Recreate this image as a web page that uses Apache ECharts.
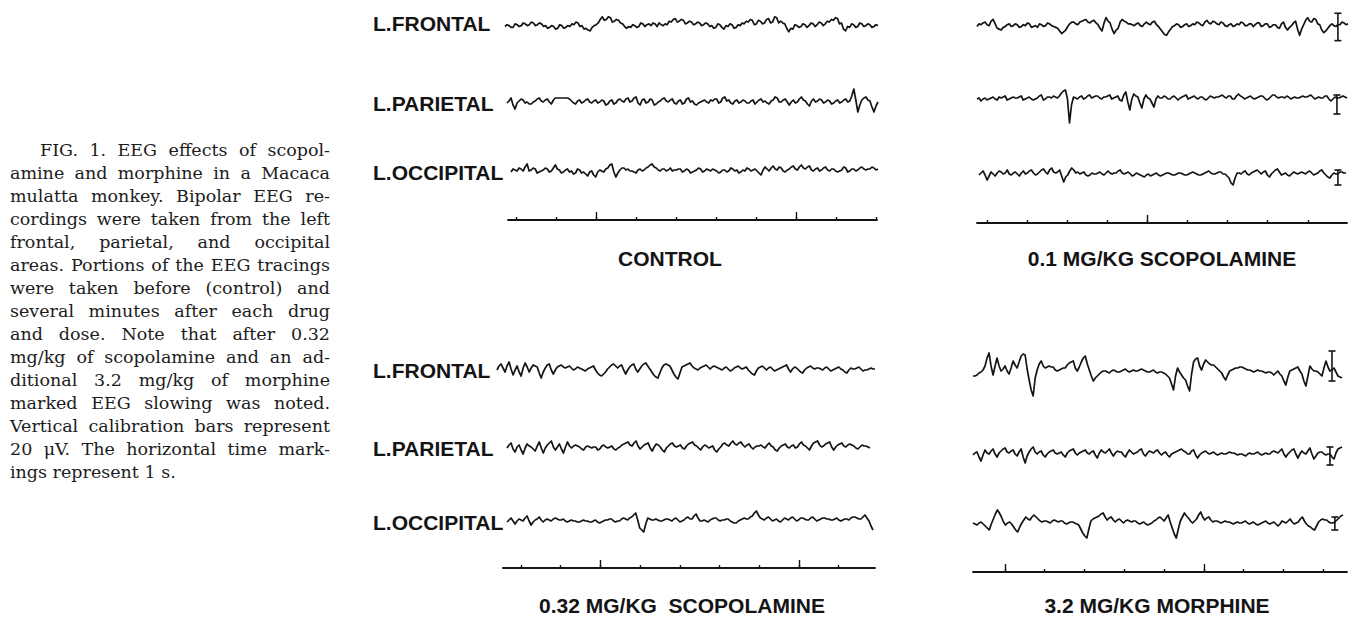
<!DOCTYPE html>
<html>
<head>
<meta charset="utf-8">
<script src="https://cdn.jsdelivr.net/npm/echarts@6/dist/echarts.min.js"></script>
<style>
html, body { margin: 0; background: #fff; }
#chart { width: 1358px; height: 618px; }
</style>
</head>
<body>
<div id="chart"></div>
<script>
// pen deflection of each channel (1 unit ~ 1 px of the original tracing), one sample every ~2 px
const tlFrontal = [0,2,1,-1,-1,3,2,0,1,4,3,1,2,5,4,1,2,4,3,0, 1,-2,-1,1,0,-3,-2,2,1,-2,-1,1,0,3,2,5,4,0,1,-3, -2,-4,-5,-1,1,2,4,8,11,7,8,11,10,5,6,8,7,4,3,0, -2,0,-1,2,1,-1,0,4,3,0,2,3,1,4,3,0,4,2,1,3, 2,6,5,8,9,5,6,8,7,3,4,6,5,2,3,5,4,1,2,4, 3,0,1,-2,-1,3,2,-1,-3,1,0,3,2,-2,-1,2,1,4,3,6, 5,8,7,2,3,7,6,3,4,8,9,4,5,11,10,4,6,4,3,-2, -6,-2,-3,2,1,-1,0,3,2,-1,1,4,3,0,2,5,4,1,3,6, 5,8,7,10,9,3,4,-3,-5,0,-1,3,2,-1,0,4,3,0,1,3,2,-1,0,2,1]
const tlParietal = [0,2,5,-2,-6,0,2,4,3,0,1,-1,-1,1,2,4,5,2,1,3, 4,1,-1,3,5,5,5,5,5,5,5,4,2,0,-1,2,3,0,1,3, 4,1,0,2,3,0,1,3,2,-2,-1,2,3,-1,0,3,4,2,1,4, 5,1,2,5,6,0,-2,3,4,0,1,4,3,-2,-1,1,2,4,5,2, 1,3,4,0,-1,2,3,-1,0,4,5,1,2,-1,-2,0,1,2,3,1, 0,3,2,4,4,0,1,5,6,2,3,0,-1,2,3,0,1,3,2,0, 0,2,3,-1,1,3,4,1,2,0,-1,2,3,6,5,1,1,3,4,1, -2,1,3,0,1,4,6,3,2,-1,-3,2,4,1,2,4,3,0,1,3, 2,-1,0,2,3,0,1,3,4,1,2,7,14,3,-9,-2,3,5,6,3,2,-4,-9,-3,1]
const tlOccipital = [0,3,2,1,4,3,1,5,8,1,2,4,3,-1,0,1,2,4,3,0, 1,4,7,3,2,-1,0,2,3,0,1,-2,-1,3,2,-1,0,-2,-4,0, 1,-3,-5,0,2,1,0,3,4,7,8,0,-5,-1,2,4,4,2,3,1, 1,0,-1,2,3,1,2,4,5,7,8,5,4,2,1,3,3,1,2,4, 1,2,2,3,3,0,1,3,2,-1,0,1,2,4,3,0,1,3,2,1, 3,2,1,-1,0,2,2,0,1,4,3,1,2,-1,0,2,1,4,3,1, 2,3,1,-1,-3,2,5,3,1,4,6,3,2,5,4,1,0,2,3,5, 6,3,2,5,7,4,3,5,6,2,1,3,4,1,2,4,5,2,1,3, 3,1,0,1,2,5,4,0,1,3,3,1,2,4,5,3,2,3,3,5,4,2,3]

const trFrontal = [0,3,2,4,5,2,1,6,8,3,-2,-3,-4,-1,0,2,3,0,1,3, 2,-1,0,2,1,4,3,-1,0,1,-1,3,2,0,1,4,3,1,0,-1, -2,-5,-8,-6,-4,0,3,5,5,3,2,5,6,7,8,5,4,6,7,4, 2,-2,-5,4,10,6,4,-3,-8,-4,-2,5,8,6,5,3,3,2,1,3, 4,1,0,3,5,3,2,5,6,2,0,-3,-6,-9,-10,-6,-3,0,1,3, 2,-1,0,2,3,0,1,3,2,5,4,2,1,5,7,4,3,6,5,3, 2,5,4,1,0,2,3,0,1,3,2,5,4,1,1,3,3,0,2,4, 4,0,1,3,3,-1,0,2,2,-1,-2,3,5,-1,-4,-1,1,4,6,-3, -10,-3,2,7,10,6,5,9,8,3,2,-4,-7,-5,-2,1,3,1,0,2,2,5,4,2,3]
const trParietal = [0,1,-2,0,1,-1,0,1,2,0,-1,2,1,2,3,-1,0,1,2,1, 1,2,3,-1,0,1,2,0,-1,0,1,3,4,-1,0,2,2,1,3,2, 1,3,6,8,9,0,-24,-6,2,1,0,2,3,0,1,3,4,1,2,3, 3,1,0,2,2,3,4,0,1,2,3,-1,-2,4,7,-3,-11,0,5,3, 2,-4,-9,0,4,1,0,-4,-8,0,3,1,1,3,2,0,0,2,3,1, -1,1,2,3,4,0,1,2,3,1,0,2,2,0,-1,1,3,2,1,2, 2,3,4,2,1,3,3,0,0,3,5,3,2,0,1,2,3,1,0,1, 2,3,3,1,-1,0,2,4,4,2,1,2,2,1,3,2,0,1,2,1, 1,2,3,2,2,3,4,2,0,1,2,1,1,3,3,0,-2,0,2,1,1,2,3,2,1]
const trOccipital = [0,2,4,0,-5,-1,3,1,-1,2,4,3,1,2,5,1,0,2,3,1, -1,2,4,1,2,4,5,2,0,1,3,5,6,3,1,5,7,3,2,3, 5,-1,-7,-2,0,4,7,5,2,3,1,2,3,0,-1,0,2,1,1,2, 3,1,0,2,4,2,1,2,2,4,5,2,1,2,3,1,-1,0,2,1, 0,-1,-2,0,1,-1,0,1,2,0,-1,0,1,2,2,1,0,0,1,2, 2,1,0,0,1,2,3,2,1,0,0,1,2,3,4,2,1,1,2,3, 3,1,1,-1,-3,-8,-10,-3,2,2,1,3,4,1,0,2,3,4,5,3, 1,3,4,0,-2,1,3,5,6,3,0,1,2,0,-1,1,3,2,1,2, 3,2,1,3,4,2,0,1,2,4,5,2,0,-2,-3,0,2,1,1,3,3,2,2]

const blFrontal = [0,4,6,2,-2,4,8,1,-5,0,4,-2,-6,2,7,3,-2,2,5,4, 3,-3,-8,-2,2,5,6,0,-4,0,3,4,5,3,2,3,4,2,0,1, 3,2,1,0,-1,1,2,3,4,0,-3,-5,-6,-4,-2,1,3,5,6,4, 2,4,5,0,-4,0,3,5,6,1,-2,1,4,6,7,4,1,-2,-5,-7, -8,-3,2,5,6,5,4,0,-4,-7,-9,-3,3,4,5,6,7,4,2,1, 0,2,3,4,5,3,1,3,4,3,2,1,0,2,3,1,-1,0,2,3, 4,2,1,2,3,0,-2,-4,-5,-1,2,3,4,2,0,2,3,1,-1,0, 1,2,3,4,5,1,-2,1,3,2,0,-2,-3,0,2,3,4,2,1,2, 2,1,0,2,3,1,-1,0,1,2,3,1,0,-2,-3,0,2,1,1,2,3,1,-1,0,0,1,2,1,1]
const blParietal = [0,3,5,-1,-4,1,3,-2,-6,0,4,2,1,-1,-3,2,6,0,-5,0, 3,5,7,1,-2,1,4,-1,-5,1,6,2,0,2,3,2,1,-1,-2,1, 2,1,0,1,1,-2,-1,2,3,1,0,1,2,-1,-2,0,1,3,4,5, 6,3,2,5,7,2,-1,1,3,4,5,0,-3,1,4,3,1,-2,-4,0, 2,4,5,2,1,2,3,0,-1,2,4,5,6,3,2,0,-2,1,3,2, 0,1,2,-2,-4,-1,1,4,5,3,2,5,7,4,3,5,6,3,1,3, 4,1,-1,1,2,2,3,1,0,3,5,2,1,-2,-3,0,2,3,4,1, 0,2,3,0,1,4,6,3,2,0,-2,2,5,6,7,3,1,2,4,5, 6,1,-2,1,3,4,5,2,1,3,4,3,2,0,-1,1,3,2,2,1,0]
const blOccipital = [0,2,4,1,-2,1,3,2,1,4,6,1,-3,0,2,3,5,2,0,2, 3,2,1,3,4,3,2,2,3,1,0,1,2,1,1,0,0,1,2,1, 1,0,0,1,2,0,-1,0,1,2,2,3,3,1,0,1,1,3,4,3, 2,4,5,7,9,2,-6,-8,-10,-2,4,3,2,2,3,2,1,1,2,3, 3,2,1,3,4,2,0,1,2,4,5,3,3,6,8,4,1,1,2,1, 0,2,3,4,4,2,1,2,2,3,3,1,0,-1,-1,1,2,3,4,3, 3,5,6,9,11,7,4,3,2,4,5,3,1,2,3,1,0,2,4,3, 2,4,5,3,1,2,4,4,3,2,2,4,5,3,1,2,3,4,4,3, 3,2,2,3,4,2,1,2,3,3,2,4,5,5,4,3,3,5,7,4,1,-4,-8]

const brFrontal = [-4,-4,-3,-1,0,2,6,14,19,6,-3,6,14,6,1,3,6,1,-2,4, 11,7,4,10,16,18,17,3,-8,-18,-24,-6,2,8,11,6,4,5,6,5, 5,2,1,2,3,4,4,7,9,10,11,4,1,5,10,14,16,8,2,-4, -9,-6,-4,-2,0,1,1,0,-1,1,2,1,0,0,1,2,3,1,0,1, 2,1,1,2,3,2,1,0,0,1,2,0,-1,0,0,-1,-2,-4,-6,-12, -18,-4,4,0,-3,-6,-8,-14,-19,-2,10,13,14,6,2,8,12,10,8,7, 7,5,3,1,-1,-5,-8,-3,1,2,3,4,4,5,5,4,3,2,2,1, 0,1,2,1,1,0,-1,0,0,-1,-3,-1,1,-2,-4,-9,-13,-5,1,2, 3,4,5,1,-2,-9,-14,-4,6,3,1,1,0,-2,-4,4,11,5,1,2,4,0,-4,-5,-6]
const brParietal = [0,2,3,-2,-6,0,5,2,1,4,6,1,-2,2,4,6,7,3,2,4, 5,1,-1,3,6,-2,-8,-1,3,6,8,3,1,3,4,0,-2,1,3,4, 5,2,1,2,3,0,-2,2,4,5,6,2,0,2,3,4,5,2,1,3, 4,0,-3,2,5,3,2,4,6,2,-1,2,4,3,3,0,-2,2,5,3, 1,2,3,5,6,1,-1,2,4,3,2,4,5,2,0,2,3,0,-2,1, 2,3,4,5,6,4,3,1,1,4,5,0,-3,0,2,3,4,2,1,2, 3,1,0,1,2,1,1,2,3,2,2,1,0,1,1,0,-1,1,2,1, 1,2,3,1,0,1,2,1,1,3,4,3,2,4,6,1,-2,1,3,5, 6,1,-3,1,4,2,1,4,7,1,-4,-1,2,3,3,1,0,1,1,-2,-4,2,6,7,8]
const brOccipital = [2,1,0,2,3,1,-1,-3,-5,1,6,11,15,12,8,3,0,2,3,1, -2,-5,-7,-2,2,5,8,6,5,8,10,8,6,4,3,4,4,3,2,4, 5,4,3,4,4,2,1,2,3,3,2,1,0,-4,-8,-11,-13,-4,4,6, 7,8,9,11,12,8,5,7,8,5,3,5,6,4,2,4,5,4,3,4, 4,2,1,2,3,1,0,1,2,4,5,7,8,6,4,7,10,3,-3,-9, -13,-4,4,8,12,9,7,4,2,4,6,10,13,8,5,7,8,5,3,4, 4,3,2,3,4,3,3,2,1,2,3,2,2,3,4,2,1,2,3,1, 0,1,2,3,4,2,1,2,3,1,-1,1,4,3,2,4,6,3,1,2, 3,6,8,4,1,-1,-2,-4,-5,-1,3,5,6,5,5,3,2,2,3,5,7,9,10]

// calibration bars (20 uV): [sample index, top, bottom]
const trCal = [[179, 15, -16], [179, 4, -15], [178, 5, -10]]
const brCal = [[179, 21, -9], [178, 8, -10], [178, 8, -5]]

// time marker lines (s)
const tlTicks = [0.2, 1.2, 2.2, 3.2, 4.2, 5.2, 6.2, 7.2, 8.2, 9.2]
const tlTall = [2.2, 7.2]
const trTicks = [0.25, 1.25, 2.25, 3.25, 4.25, 5.25, 6.25, 7.25, 8.28]
const trTall = [4.25]
const blTicks = [0.45, 1.43, 2.43, 3.43, 4.43, 5.4, 6.4, 7.4, 8.38]
const blTall = [2.43, 7.4]
const brTicks = [0.8, 1.78, 2.78, 3.78, 4.78, 5.78, 6.75, 7.75, 8.75]
const brTall = [0.8, 5.78]

const channels = ['L.FRONTAL', 'L.PARIETAL', 'L.OCCIPITAL']
const titles = ['CONTROL', '0.1 MG/KG SCOPOLAMINE', '0.32 MG/KG  SCOPOLAMINE', '3.2 MG/KG MORPHINE']

const captionLines = [
    'FIG. 1. EEG effects of scopol-',
    'amine and morphine in a Macaca',
    'mulatta monkey. Bipolar EEG re-',
    'cordings were taken from the left',
    'frontal, parietal, and occipital',
    'areas. Portions of the EEG tracings',
    'were taken before (control) and',
    'several minutes after each drug',
    'and dose. Note that after 0.32',
    'mg/kg of scopolamine and an ad-',
    'ditional 3.2 mg/kg of morphine',
    'marked EEG slowing was noted.',
    'Vertical calibration bars represent',
    '20 \u03bcV. The horizontal time mark-',
    'ings represent 1 s.'
]

// layout of the four panels
const panels = [
    {
        title: titles[0], titleAt: [670, 258], labelX: 373,
        traces: [
            { data: tlFrontal, x: [505, 878], y: 23 },
            { data: tlParietal, x: [507, 878], y: 103 },
            { data: tlOccipital, x: [511, 878], y: 172 }
        ],
        axis: { x: [508, 877], y: 220, span: 9.22, ticks: tlTicks, tall: tlTall }
    },
    {
        title: titles[1], titleAt: [1162, 258], cal: trCal,
        traces: [
            { data: trFrontal, x: [977, 1348], y: 23 },
            { data: trParietal, x: [977, 1347], y: 99 },
            { data: trOccipital, x: [979, 1346], y: 175 }
        ],
        axis: { x: [977, 1347], y: 223, span: 9.25, ticks: trTicks, tall: trTall }
    },
    {
        title: titles[2], titleAt: [682, 605], labelX: 373,
        traces: [
            { data: blFrontal, x: [497, 875], y: 370 },
            { data: blParietal, x: [507, 870], y: 448 },
            { data: blOccipital, x: [507, 873], y: 522 }
        ],
        axis: { x: [503, 875], y: 568, span: 9.3, ticks: blTicks, tall: blTall }
    },
    {
        title: titles[3], titleAt: [1157, 605], cal: brCal,
        traces: [
            { data: brFrontal, x: [973, 1342], y: 372 },
            { data: brParietal, x: [973, 1342], y: 455 },
            { data: brOccipital, x: [973, 1343], y: 525 }
        ],
        axis: { x: [973, 1347], y: 572, span: 9.35, ticks: brTicks, tall: brTall }
    }
]

const ink = '#141414'
const grid = [], xAxis = [], yAxis = [], series = [], graphic = []
const labelFont = 'bold 21px "Liberation Sans", Arial, sans-serif'

panels.forEach(p => {
    p.traces.forEach((t, k) => {
        const gi = grid.length
        grid.push({ left: t.x[0], width: t.x[1] - t.x[0], top: t.y - 30, height: 60 })
        xAxis.push({ gridIndex: gi, type: 'value', min: 0, max: t.data.length - 1, show: false })
        yAxis.push({ gridIndex: gi, type: 'value', min: -30, max: 30, show: false })
        series.push({
            type: 'line', xAxisIndex: xAxis.length - 1, yAxisIndex: gi,
            data: t.data.map((v, i) => [i, v]),
            showSymbol: false, silent: true,
            lineStyle: { color: ink, width: 1.7, join: 'round' }
        })
        if (p.cal) {
            const c = p.cal[k]
            series.push({
                type: 'line', xAxisIndex: xAxis.length - 1, yAxisIndex: gi,
                data: [[c[0], c[1]], [c[0], c[2]]],
                symbol: 'rect', symbolSize: [7, 1.6], showSymbol: true, silent: true,
                itemStyle: { color: ink }, lineStyle: { color: ink, width: 1.6 }, z: 3
            })
        }
        if (p.labelX) {
            graphic.push({
                type: 'text', x: p.labelX, y: t.y, silent: true,
                style: { text: channels[k], font: labelFont, fill: ink, textVerticalAlign: 'middle' }
            })
        }
    })

    // time marker
    const a = p.axis
    const gi = grid.length
    grid.push({ left: a.x[0], width: a.x[1] - a.x[0], top: a.y - 20, height: 20 })
    yAxis.push({ gridIndex: gi, type: 'value', min: 0, max: 1, show: false })
    xAxis.push({
        gridIndex: gi, type: 'value', min: 0, max: a.span, position: 'bottom',
        axisLine: { show: true, onZero: false, lineStyle: { color: ink, width: 1.8 } },
        axisTick: { show: true, inside: true, length: 3, customValues: a.ticks, lineStyle: { color: ink, width: 1.4 } },
        axisLabel: { show: false }, splitLine: { show: false }
    })
    xAxis.push({
        gridIndex: gi, type: 'value', min: 0, max: a.span, position: 'bottom',
        axisLine: { show: false, onZero: false },
        axisTick: { show: true, inside: true, length: 8, customValues: a.tall, lineStyle: { color: ink, width: 1.4 } },
        axisLabel: { show: false }, splitLine: { show: false }
    })

    graphic.push({
        type: 'text', x: p.titleAt[0], y: p.titleAt[1], silent: true,
        style: { text: p.title, font: labelFont, fill: ink, textAlign: 'center', textVerticalAlign: 'middle' }
    })
})

// justified caption on the left
const capLeft = 10, capRight = 330, capIndent = 30, capTop = 150, capStep = 23
const capFamily = '"DejaVu Serif", serif'
const ctx = document.createElement('canvas').getContext('2d')
ctx.font = '100px ' + capFamily
let widest = 0
captionLines.forEach((line, i) => {
    const w = ctx.measureText(line).width + (i === 0 ? capIndent * 100 / 17 : 0)
    widest = Math.max(widest, w)
})
const capSize = Math.min(17.5, (capRight - capLeft) * 100 / widest)
const capFont = capSize.toFixed(2) + 'px ' + capFamily
ctx.font = capFont
captionLines.forEach((line, i) => {
    const words = line.split(' ')
    const widths = words.map(w => ctx.measureText(w).width)
    const x0 = capLeft + (i === 0 ? capIndent : 0)
    const total = widths.reduce((s, w) => s + w, 0)
    const last = i === captionLines.length - 1
    const gap = last ? ctx.measureText(' ').width : (capRight - x0 - total) / (words.length - 1)
    let x = x0
    words.forEach((w, k) => {
        graphic.push({
            type: 'text', x: x, y: capTop + i * capStep, silent: true,
            style: { text: w, font: capFont, fill: '#1c1c1c', textVerticalAlign: 'middle' }
        })
        x += widths[k] + gap
    })
})

const chart = echarts.init(document.getElementById('chart'), null, { renderer: 'svg' })
chart.setOption({
    animation: false,
    backgroundColor: '#fff',
    grid: grid,
    xAxis: xAxis,
    yAxis: yAxis,
    series: series,
    graphic: graphic
})
</script>
</body>
</html>
